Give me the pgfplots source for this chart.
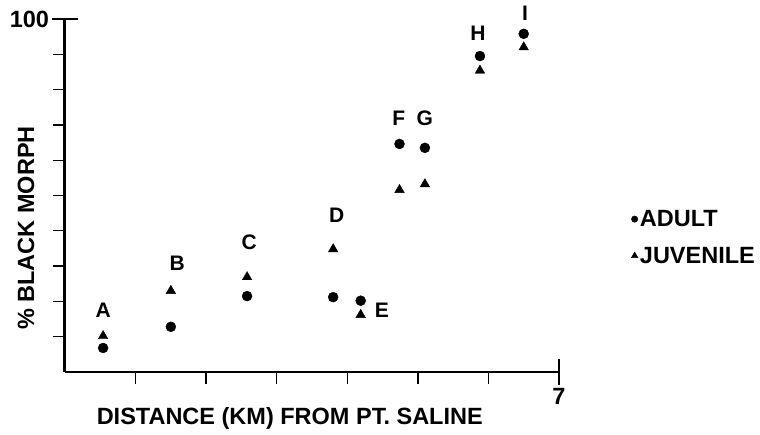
\documentclass[border=0pt]{standalone}
\usepackage{fontspec}
\setmainfont{Liberation Sans}
\usepackage{pgfplots}
\pgfplotsset{compat=1.18}
\pgfplotstableread{
x y
0.54 6.8
1.50 12.8
2.58 21.5
3.80 21.2
4.19 20.2
4.74 64.6
5.10 63.5
5.88 89.5
6.50 95.8
}\adult
\pgfplotstableread{
x y
0.54 10.2
1.50 23.0
2.58 26.9
3.80 34.8
4.19 16.2
4.74 51.6
5.10 53.2
5.88 85.4
6.50 92.0
}\juvenile
\pgfplotstableread{
x y label
0.54 17.6 A
1.59 30.9 B
2.61 36.8 C
3.85 44.5 D
4.49 17.6 E
4.73 72.0 F
5.10 72.0 G
5.85 96.0 H
6.52 101.7 I
}\sitelabels
\newcommand{\bigfont}{\bfseries\fontsize{23.5}{27}\selectfont}
\newcommand{\ptfont}{\bfseries\fontsize{21}{25}\selectfont}
\begin{document}
\begin{tikzpicture}[x=1pt,y=1pt]
\path[use as bounding box] (0,0) rectangle (760,435);
\begin{axis}[
  at={(65pt,63pt)}, anchor=south west,
  scale only axis, width=494pt, height=353pt,
  xmin=0, xmax=7, ymin=0, ymax=100,
  enlargelimits=false, clip=false,
  axis x line=bottom, axis y line=left,
  axis line style={-},
  x axis line style={line width=2pt},
  y axis line style={line width=3pt},
  tick style={line width=1.3pt, black},
  tick align=outside, major tick length=12pt,
  xtick={1,2,3,4,5,6}, xticklabels={},
  ytick={10,20,30,40,50,60,70,80,90}, yticklabels={},
  extra x ticks={7}, extra x tick labels={7},
  extra x tick style={tick align=center, major tick length=26pt},
  extra y ticks={100}, extra y tick labels={100},
  extra y tick style={tick align=center, major tick length=25pt},
  /pgf/number format/assume math mode=true,
  ticklabel style={font=\bigfont},
  xlabel={DISTANCE (KM) FROM PT. SALINE},
  ylabel={\% BLACK MORPH},
  xlabel style={font=\bigfont, at={(axis description cs:0.455,-0.132)}, anchor=center},
  ylabel style={font=\bigfont, at={(axis description cs:-0.079,0.408)}, anchor=center},
  legend style={draw=none, fill=none, font=\bigfont,
    at={(rel axis cs:1.14,0.47)}, anchor=north west,
    row sep=15pt, cells={anchor=west}},
  legend image code/.code={\draw[#1] plot coordinates {(0pt,0pt)};},
]
\addplot[only marks, mark=*, mark size=5pt, black, forget plot] table {\adult};
\addplot[only marks, mark=triangle*, mark size=5.5pt, black, forget plot] table {\juvenile};
\addplot[only marks, mark=*, mark size=0pt, mark options={draw=none, fill=none, opacity=0}, forget plot,
  nodes near coords, point meta=explicit symbolic,
  nodes near coords style={anchor=center, font=\ptfont, black, opacity=1}]
  table[meta=label] {\sitelabels};
\addlegendimage{only marks, mark=*, mark size=3.2pt, black}
\addlegendentry{ADULT}
\addlegendimage{only marks, mark=triangle*, mark size=3.8pt, black}
\addlegendentry{JUVENILE}
\end{axis}
\end{tikzpicture}
\end{document}
